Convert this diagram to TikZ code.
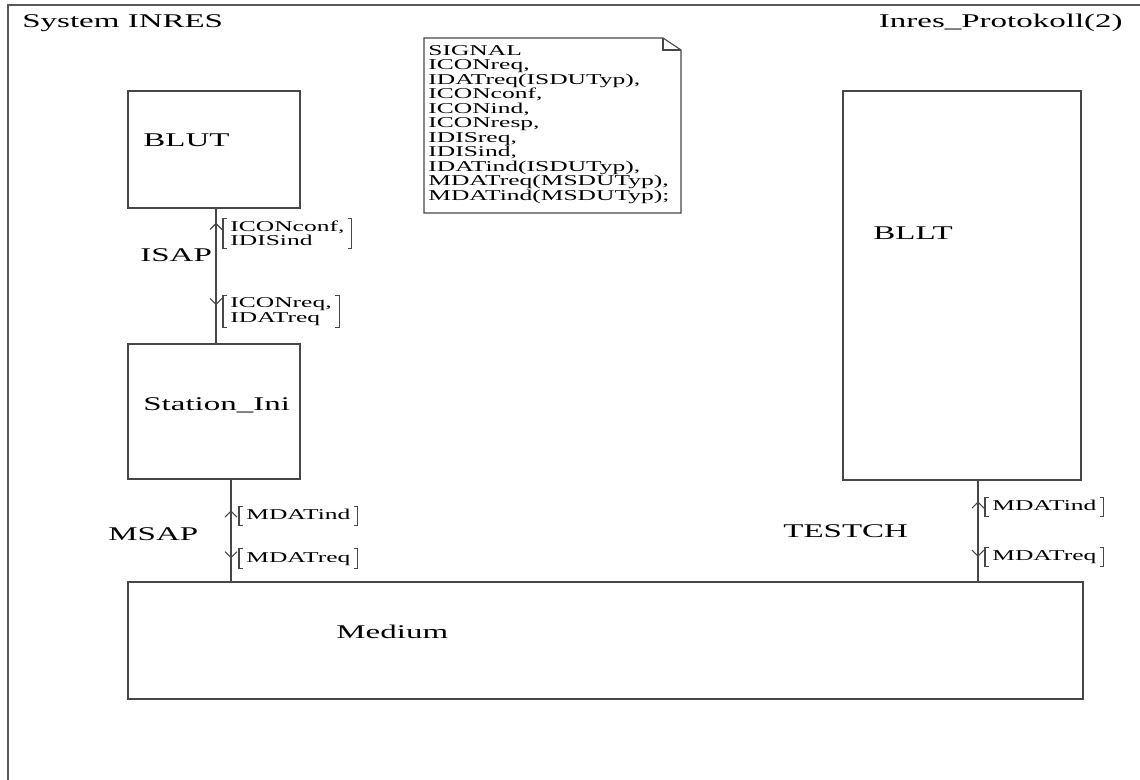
\documentclass[tikz,border=0pt]{standalone}
\usepackage{fontspec}
\setmainfont{Liberation Serif}
\newfontfamily\sdlfont{Liberation Serif}[FakeStretch=1.7]
\usetikzlibrary{fit}
\newcommand\sdlbrack[1]{%
  \draw[line] ([xshift=2pt]#1.north west) -- (#1.north west) -- (#1.south west) -- ([xshift=2pt]#1.south west);
  \draw[line] ([xshift=-2pt]#1.north east) -- (#1.north east) -- (#1.south east) -- ([xshift=-2pt]#1.south east);}
\newcommand\upchev[2]{\draw[line] (#2 |- #1.north) ++(-6,11) -- ++(6,-6) -- ++(6,6);}
\newcommand\downchev[2]{\draw[line] (#2 |- #1.north) ++(-6,3) -- ++(6,6) -- ++(6,-6);}
\begin{document}
\begin{tikzpicture}[x=0.5pt,y=-0.5pt,
  line/.style={draw=black!72, line width=0.55pt},
  frame/.style={draw=black!65, line width=0.7pt},
  blk/.style={line, inner sep=0pt},
  big/.style={font=\sdlfont\fontsize{9.7}{11}\selectfont, inner sep=0pt, anchor=base west},
  sig/.style={font=\sdlfont\fontsize{7.5}{7.25}\selectfont, inner sep=0pt, align=left, anchor=north west},
  lab2/.style={font=\sdlfont\fontsize{7.5}{7.25}\selectfont, inner xsep=3.5pt, inner ysep=1pt, align=left, anchor=west},
  lab1/.style={font=\sdlfont\fontsize{7.5}{7.25}\selectfont, inner xsep=3.5pt, inner ysep=1pt, text height=5.6pt, text depth=1.8pt, anchor=west}
]
\useasboundingbox (0,0) rectangle (1140,780);
% frame
\draw[frame] (1140,5) -- (8,5) -- (8,780);
\node[big] (systitle) at (22,28) {System INRES};
\node[big, anchor=base east] (pagetitle) at (1123,28) {Inres\_Protokoll(2)};

% blocks
\node[blk, fit={(128,91) (300,208)}] (blut) {};
\node[blk, fit={(128,344) (300,479)}] (station) {};
\node[blk, fit={(128,582) (1083,699)}] (medium) {};
\node[blk, fit={(843,91) (1081,480)}] (bllt) {};
\node[big] (blutname) at (143,147) {BLUT};
\node[big] (stationname) at (143,410) {Station\_Ini};
\node[big] (mediumname) at (336,638) {Medium};
\node[big] (blltname) at (873,240) {BLLT};

% text symbol with signal declarations
\draw[line] (424,38) -- (663,38) -- (681,50) -- (681,213) -- (424,213) -- cycle;
\draw[line] (663,38) -- (663,50) -- (681,50);
\node[sig] (signals) at (428,45) {SIGNAL\\ICONreq,\\IDATreq(ISDUTyp),\\ICONconf,\\ICONind,\\ICONresp,\\IDISreq,\\IDISind,\\IDATind(ISDUTyp),\\MDATreq(MSDUTyp),\\MDATind(MSDUTyp);};

% channel coordinates
\coordinate (isapx) at (216,0);
\coordinate (msapx) at (231,0);
\coordinate (testx) at (978,0);

% ISAP
\draw[line] (blut.south -| isapx) -- (station.north -| isapx);
\node[big] (isapname) at (140,262) {ISAP};
\node[lab2] (isapup) at (223,233.5) {ICONconf,\\IDISind};
\node[lab2] (isapdown) at (223,311.5) {ICONreq,\\IDATreq};
\sdlbrack{isapup}
\sdlbrack{isapdown}
\upchev{isapup}{isapx}
\downchev{isapdown}{isapx}

% MSAP
\draw[line] (station.south -| msapx) -- (medium.north -| msapx);
\node[big] (msapname) at (108,540) {MSAP};
\node[lab1] (msapup) at (239,516) {MDATind};
\node[lab1] (msapdown) at (239,558.5) {MDATreq};
\sdlbrack{msapup}
\sdlbrack{msapdown}
\upchev{msapup}{msapx}
\downchev{msapdown}{msapx}

% TESTCH
\draw[line] (bllt.south -| testx) -- (medium.north -| testx);
\node[big] (testname) at (783,537) {TESTCH};
\node[lab1] (testup) at (985,507) {MDATind};
\node[lab1] (testdown) at (985,557) {MDATreq};
\sdlbrack{testup}
\sdlbrack{testdown}
\upchev{testup}{testx}
\downchev{testdown}{testx}
\end{tikzpicture}
\end{document}
